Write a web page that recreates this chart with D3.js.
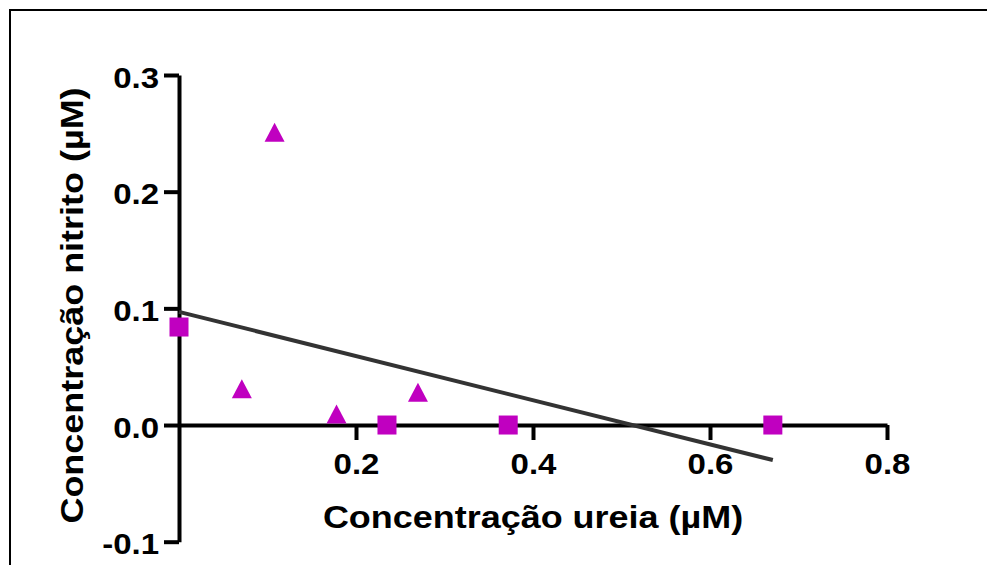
<!DOCTYPE html>
<html>
<head>
<meta charset="utf-8">
<script src="https://cdn.jsdelivr.net/npm/d3@7"></script>
<style>
  html, body { margin: 0; padding: 0; background: #fff; }
  svg { display: block; }
  text { font-family: "Liberation Sans", Arial, Helvetica, sans-serif; font-weight: bold; fill: #000; }
</style>
</head>
<body>
<svg id="chart" width="987" height="565"></svg>
<script>
// Urea (x) vs nitrite (y) concentrations, µM
const squareX = [0, 0.235, 0.372, 0.671];
const squareY = [0.084, 0, 0, 0];
const triangleX = [0.071, 0.108, 0.178, 0.270];
const triangleY = [0.031, 0.251, 0.0095, 0.028];
// Linear fit end points
const fitX = [0, 0.671];
const fitY = [0.097, -0.030];

const xTicks = [0.2, 0.4, 0.6, 0.8];
const xTickLabels = ["0.2", "0.4", "0.6", "0.8"];
const yTicks = [-0.1, 0, 0.1, 0.2, 0.3];
const yTickLabels = ["-0.1", "0.0", "0.1", "0.2", "0.3"];

const xTitle = "Concentração ureia (µM)";
const yTitle = "Concentração nitrito (µM)";

const svg = d3.select("#chart");
const markColor = "#C000C0";
const tickFont = 30, tickStretch = 1.1;
const titleFont = 31, titleStretch = 1.16;

const x = d3.scaleLinear().domain([0, 0.8]).range([179, 887]);
const y = d3.scaleLinear().domain([-0.1, 0.3]).range([541.7, 75]);

// frame (top and left edges)
svg.append("line").attr("x1", 9).attr("x2", 987).attr("y1", 10).attr("y2", 10)
  .attr("stroke", "#000").attr("stroke-width", 2);
svg.append("line").attr("x1", 10).attr("x2", 10).attr("y1", 9).attr("y2", 565)
  .attr("stroke", "#000").attr("stroke-width", 2);

// y axis
const yAxis = d3.axisLeft(y).tickValues(yTicks)
  .tickFormat((d, i) => yTickLabels[i]).tickSizeInner(15).tickSizeOuter(0).tickPadding(5);
const gy = svg.append("g").attr("transform", `translate(${x(0)},0)`).call(yAxis);
gy.select(".domain").attr("stroke-width", 4).attr("stroke", "#000");
gy.selectAll(".tick line").attr("stroke-width", 4).attr("stroke", "#000");
gy.selectAll(".tick text")
  .style("font-size", tickFont + "px")
  .attr("x", 0).attr("dy", "0.4em")
  .attr("transform", `translate(-20,0) scale(${tickStretch},1)`);

// x axis at y = 0
const xAxis = d3.axisBottom(x).tickValues(xTicks)
  .tickFormat((d, i) => xTickLabels[i]).tickSizeInner(15).tickSizeOuter(0).tickPadding(13);
const gx = svg.append("g").attr("transform", `translate(0,${y(0)})`).call(xAxis);
gx.select(".domain").attr("stroke-width", 4).attr("stroke", "#000");
gx.selectAll(".tick line").attr("stroke-width", 4).attr("stroke", "#000");
gx.selectAll(".tick text")
  .style("font-size", tickFont + "px")
  .attr("transform", `scale(${tickStretch},1)`)
  .attr("x", 0);

// axis titles
svg.append("text")
  .attr("transform", `translate(533,528) scale(${titleStretch},1)`)
  .attr("text-anchor", "middle")
  .style("font-size", titleFont + "px").text(xTitle);
svg.append("text")
  .attr("transform", `translate(83,305.5) rotate(-90) scale(${titleStretch},1)`)
  .attr("text-anchor", "middle")
  .style("font-size", titleFont + "px").text(yTitle);

// fitted line
svg.append("path")
  .datum(fitX.map((d, i) => [d, fitY[i]]))
  .attr("d", d3.line().x(d => x(d[0])).y(d => y(d[1])))
  .attr("fill", "none").attr("stroke", "#333").attr("stroke-width", 4);

// squares
const sq = 19;
svg.append("g").selectAll("rect")
  .data(squareX.map((d, i) => [d, squareY[i]]))
  .join("rect")
  .attr("x", d => x(d[0]) - sq / 2).attr("y", d => y(d[1]) - sq / 2)
  .attr("width", sq).attr("height", sq).attr("fill", markColor);

// triangles
const tw = 20, th = 19;
svg.append("g").selectAll("path")
  .data(triangleX.map((d, i) => [d, triangleY[i]]))
  .join("path")
  .attr("transform", d => `translate(${x(d[0])},${y(d[1])})`)
  .attr("d", `M0,${-th / 2}L${tw / 2},${th / 2}L${-tw / 2},${th / 2}Z`)
  .attr("fill", markColor);
</script>
</body>
</html>
